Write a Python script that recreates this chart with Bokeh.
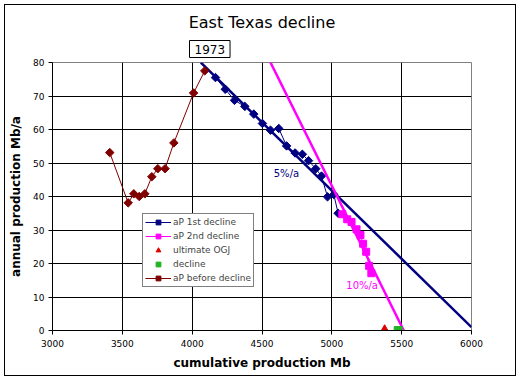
from bokeh.plotting import figure
from bokeh.models import Label, Legend, LegendItem, FixedTicker, Range1d, Title
from bokeh.embed import file_html
from bokeh.resources import INLINE

FONT = "DejaVu Sans"

title_text = "East Texas decline"
x_label = "cumulative production Mb"
y_label = "annual production Mb/a"
x_ticks = [3000, 3500, 4000, 4500, 5000, 5500, 6000]
y_ticks = [0, 10, 20, 30, 40, 50, 60, 70, 80]

# aP before decline
before_x = [3410, 3542, 3582, 3621, 3661, 3711, 3754, 3806, 3869, 4010, 4090]
before_y = [53.1, 38.1, 40.8, 40.0, 40.8, 45.9, 48.3, 48.3, 56.0, 70.9, 77.5]

# aP 1st decline
first_x = [4167, 4237, 4303, 4377, 4441, 4503, 4561, 4620, 4676, 4737, 4789,
           4833, 4885, 4926, 4969, 5014, 5045]
first_y = [75.5, 72.0, 68.7, 66.9, 64.6, 61.8, 59.8, 60.3, 55.1, 53.0, 52.6,
           50.7, 48.3, 46.1, 39.9, 40.6, 35.0]

# aP 2nd decline
second_x = [5075, 5110, 5141, 5177, 5205, 5224, 5246, 5267, 5283]
second_y = [34.7, 33.2, 32.4, 30.2, 28.5, 25.9, 23.5, 19.3, 17.1]

# fitted decline lines
fit1_x = [4062, 6000]
fit1_y = [80, 1]
fit2_x = [4561, 5515]
fit2_y = [80, 0]

# ultimate OGJ and decline end points
ogj_x = [5378]
ogj_y = [0]
decl_x = [5475]
decl_y = [0]

fit1_label = "5%/a"
fit2_label = "10%/a"
year_label = "1973"

NAVY = "#000080"
MAG = "#FF00FF"
BROWN = "#800000"
RED = "#E00000"
GREEN = "#22B422"

p = figure(frame_width=419, frame_height=268,
           x_range=Range1d(3000, 6000), y_range=Range1d(0, 80),
           output_backend="svg", toolbar_location=None, title=None,
           min_border_left=47, min_border_right=44,
           min_border_top=57, min_border_bottom=45)
p.styles = {"border": "1px solid black", "margin-left": "4px", "margin-top": "4px"}
p.background_fill_color = "white"
p.border_fill_color = "white"
p.outline_line_color = "#808080"
p.outline_line_width = 1

p.xaxis.ticker = FixedTicker(ticks=x_ticks)
p.yaxis.ticker = FixedTicker(ticks=y_ticks)
for ax in (p.xaxis, p.yaxis):
    ax.axis_line_color = "black"
    ax.major_tick_line_color = "black"
    ax.major_tick_out = 4
    ax.major_tick_in = 0
    ax.minor_tick_line_color = None
    ax.major_label_text_font = FONT
    ax.major_label_text_font_size = "9px"
    ax.major_label_text_color = "black"
    ax.axis_label_text_font = FONT
    ax.axis_label_text_font_size = "12px"
    ax.axis_label_text_font_style = "bold"
    ax.axis_label_text_color = "black"
p.xaxis.axis_label = x_label
p.yaxis.axis_label = y_label
p.xaxis.major_label_standoff = 5
p.xaxis.axis_label_standoff = 6
p.yaxis.major_label_standoff = 4
p.yaxis.axis_label_standoff = 7

p.xgrid.grid_line_color = "black"
p.ygrid.grid_line_color = "black"
p.xgrid.ticker = FixedTicker(ticks=x_ticks[1:-1])
p.ygrid.ticker = FixedTicker(ticks=y_ticks[1:-1])

DIAMOND = dict(marker="square", angle=0.7854, size=6)

# fitted lines and data
f1 = p.line(fit1_x, fit1_y, line_color=NAVY, line_width=2.5)
l1 = p.line(first_x, first_y, line_color=NAVY, line_width=1)
s1 = p.scatter(first_x, first_y, fill_color=NAVY, line_color=NAVY, **DIAMOND)
lb = p.line(before_x, before_y, line_color=BROWN, line_width=1)
sb = p.scatter(before_x, before_y, fill_color=BROWN, line_color=BROWN, **DIAMOND)
f2 = p.line(fit2_x, fit2_y, line_color=MAG, line_width=2.5)
l2 = p.line(second_x, second_y, line_color=MAG, line_width=1)
s2 = p.scatter(second_x, second_y, marker="square", size=7, fill_color=MAG, line_color=MAG)
so = p.scatter(ogj_x, ogj_y, marker="triangle", size=10, fill_color=RED, line_color=RED)
sd = p.scatter(decl_x, decl_y, marker="square", size=8, fill_color=GREEN, line_color=GREEN)

legend = Legend(items=[
    LegendItem(label="aP 1st decline", renderers=[l1, s1]),
    LegendItem(label="aP 2nd decline", renderers=[l2, s2]),
    LegendItem(label="ultimate OGJ", renderers=[so]),
    LegendItem(label="decline", renderers=[sd]),
    LegendItem(label="aP before decline", renderers=[lb, sb]),
], location=(90, 43))
legend.label_text_font = FONT
legend.label_text_font_size = "9px"
legend.label_height = 12
legend.glyph_height = 12
legend.glyph_width = 26
legend.spacing = 2
legend.padding = 2
legend.margin = 0
legend.label_standoff = 2
legend.border_line_color = "black"
legend.border_line_width = 1
legend.background_fill_color = "white"
legend.background_fill_alpha = 1
p.add_layout(legend)

p.add_layout(Label(x=4675, y=46.8, text=fit1_label, text_color=NAVY,
                   text_font=FONT, text_font_size="10px",
                   text_align="center", text_baseline="middle"))
p.add_layout(Label(x=5217, y=13.3, text=fit2_label, text_color=MAG,
                   text_font=FONT, text_font_size="10px",
                   text_align="center", text_baseline="middle"))

# "1973" boxed marker above the frame, then the chart title above it
p.add_layout(Title(text=year_label, text_color="black", text_font=FONT,
                   text_font_size="12px", text_font_style="normal",
                   align="left", offset=137, standoff=10,
                   border_line_color="black", background_fill_color="white",
                   padding=(5, 4)), "above")
p.add_layout(Title(text=title_text, text_color="black", text_font=FONT,
                   text_font_size="16px", text_font_style="normal",
                   align="center", standoff=4), "above")

open("out.html", "w").write(file_html(p, INLINE))
